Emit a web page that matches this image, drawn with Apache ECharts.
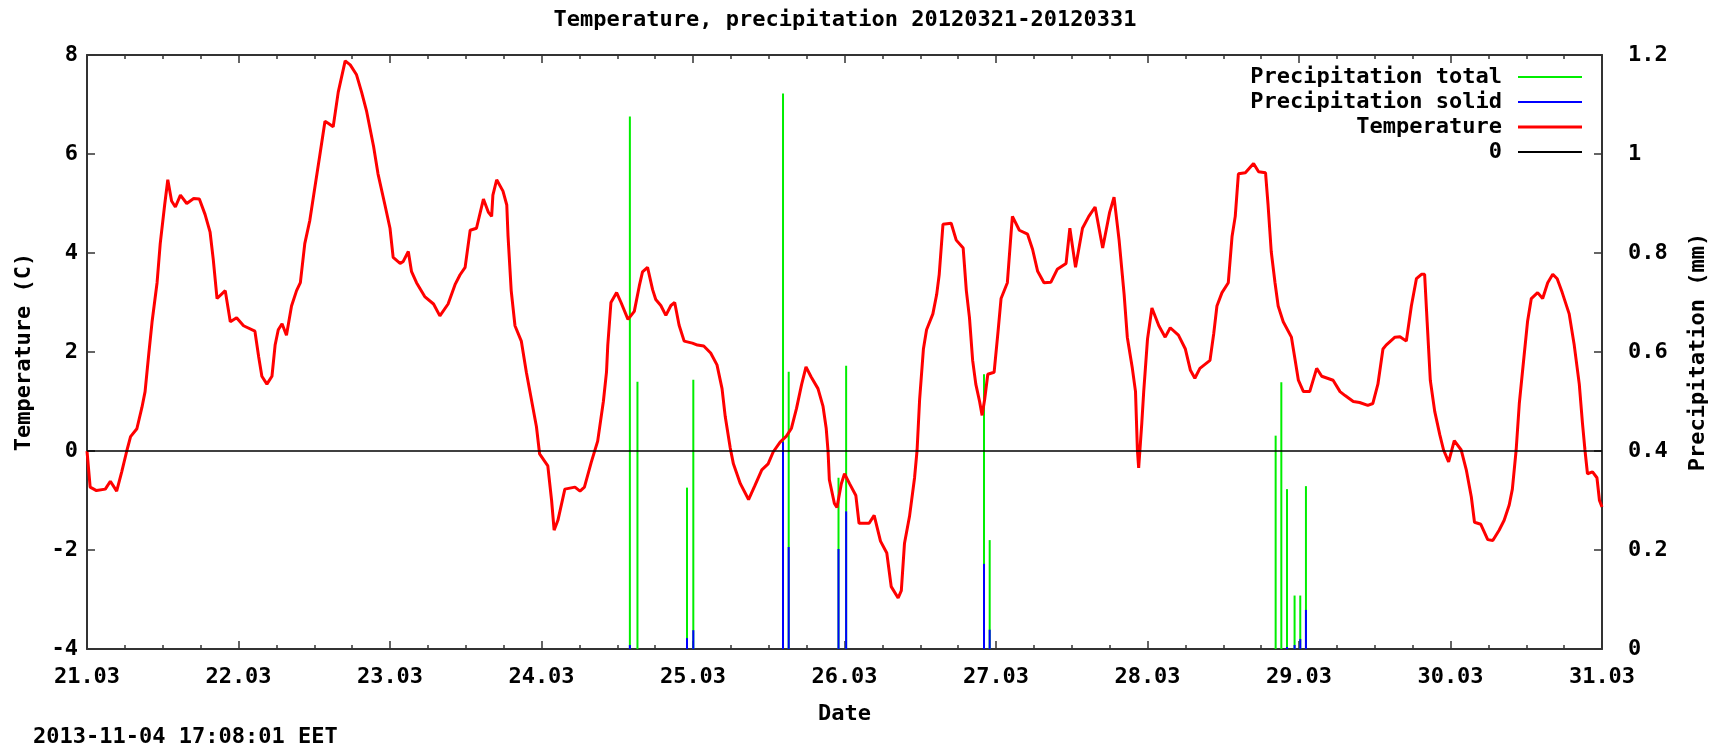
<!DOCTYPE html>
<html>
<head>
<meta charset="utf-8">
<script src="https://cdn.jsdelivr.net/npm/echarts@6/dist/echarts.min.js"></script>
<style>
html,body{margin:0;padding:0;background:#fff;}
#chart{width:1717px;height:749px;}
</style>
</head>
<body>
<div id="chart"></div>
<script>
// X axis: hours since 21.03 00:00
const xTickLabels = ['21.03','22.03','23.03','24.03','25.03','26.03','27.03','28.03','29.03','30.03','31.03'];

const tempHours = [0,0.5,1.5,2.9,3.7,4.7,5.5,6.3,6.9,7.9,8.7,9.2,9.8,10.3,11.1,11.6,12.3,12.8,13.4,14.0,14.8,15.8,16.9,17.8,18.7,19.5,20.0,20.6,21.9,22.7,23.7,24.8,26.6,27.2,27.7,28.5,29.3,29.8,30.3,30.9,31.6,32.4,33.2,33.8,34.5,35.3,36.1,36.9,37.7,38.2,39.0,39.8,40.9,41.7,42.7,43.5,44.3,45.4,46.1,47.2,48.0,48.5,49.6,50.1,50.9,51.4,52.2,53.5,54.9,55.9,57.2,58.3,59.1,59.9,60.7,61.7,62.8,63.6,64.1,64.3,64.9,65.9,66.5,66.7,67.2,67.8,68.8,69.6,70.4,71.2,71.7,73.0,73.6,74.0,74.6,75.7,77.3,78.1,78.8,79.9,80.9,81.8,82.3,82.5,83.0,83.9,84.6,85.7,86.7,87.5,88.0,88.8,89.6,90.1,90.9,91.7,92.5,93.1,93.8,94.6,95.9,96.7,97.7,98.8,99.8,100.6,101.1,101.9,102.4,103.5,104.8,105.8,106.9,107.9,108.7,109.8,110.8,111.6,112.4,113.2,113.9,114.7,115.8,116.6,117.1,117.4,117.6,118.4,118.8,119.5,120.0,120.8,121.8,122.3,123.9,124.7,125.7,126.7,127.4,128.5,129.0,129.5,130.3,131.1,131.5,131.9,132.5,133.0,134.0,134.6,135.0,135.6,136.9,137.7,138.8,139.3,139.8,140.3,140.8,141.4,141.8,142.2,142.7,143.7,144.3,144.8,145.8,146.4,146.6,147.7,149.0,149.8,150.6,151.6,152.7,153.7,155.1,155.7,156.6,157.7,158.7,159.7,160.9,162.0,162.7,163.5,164.3,164.8,165.6,166.1,166.4,166.6,167.1,167.4,168.0,168.7,169.8,170.8,171.6,172.9,174.0,174.8,175.5,176.3,177.9,178.5,179.0,179.8,180.8,181.4,181.9,182.4,183.5,184.8,185.6,186.7,187.1,187.6,188.2,188.7,189.5,190.8,191.4,191.9,192.7,193.7,194.8,195.6,197.4,198.5,199.3,200.6,201.6,202.9,203.7,204.5,205.3,205.8,207.2,208.0,209.0,209.8,210.6,211.4,211.9,212.3,212.8,213.5,214.3,214.9,215.7,216.6,217.7,218.5,219.3,219.8,220.8,221.9,222.7,223.7,224.5,225.3,225.8,226.4,226.9,227.7,228.2,228.8,229.8,230.6,231.4,232.2,232.9,233.7,234.8,235.6,236.4,236.9,237.3,237.7,238.5,239.2,239.6,240];

const tempValues = [0,-0.73,-0.8,-0.77,-0.61,-0.81,-0.42,0,0.29,0.45,0.88,1.2,1.98,2.6,3.4,4.19,4.97,5.48,5.05,4.93,5.17,5.0,5.1,5.09,4.78,4.42,3.87,3.08,3.24,2.61,2.69,2.53,2.42,1.9,1.51,1.35,1.51,2.14,2.45,2.57,2.34,2.93,3.24,3.4,4.19,4.66,5.33,5.99,6.66,6.62,6.55,7.25,7.88,7.8,7.6,7.25,6.86,6.15,5.6,4.97,4.5,3.91,3.79,3.83,4.03,3.63,3.4,3.12,2.97,2.73,2.97,3.36,3.56,3.71,4.46,4.5,5.09,4.82,4.74,5.17,5.48,5.25,4.97,4.34,3.24,2.53,2.22,1.59,1.04,0.49,-0.06,-0.3,-1.0,-1.6,-1.4,-0.77,-0.73,-0.81,-0.73,-0.22,0.2,1.0,1.6,2.14,3.0,3.2,3.0,2.66,2.82,3.34,3.62,3.71,3.26,3.06,2.94,2.74,2.94,3.0,2.54,2.22,2.18,2.14,2.12,1.98,1.74,1.26,0.7,0.06,-0.26,-0.66,-0.98,-0.7,-0.38,-0.26,-0.02,0.18,0.3,0.46,0.86,1.34,1.7,1.5,1.26,0.9,0.46,-0.02,-0.58,-1.06,-1.14,-0.66,-0.46,-0.66,-0.9,-1.46,-1.46,-1.3,-1.82,-2.06,-2.74,-2.97,-2.82,-1.87,-1.32,-0.54,0.02,1.04,2.06,2.45,2.77,3.16,3.56,4.58,4.6,4.26,4.1,3.24,2.69,1.83,1.35,1.0,0.72,1.04,1.55,1.59,2.38,3.08,3.4,4.42,4.74,4.46,4.38,4.07,3.63,3.4,3.41,3.67,3.79,4.5,3.71,4.5,4.74,4.93,4.1,4.82,5.13,4.26,3.16,2.3,1.67,1.2,0.02,-0.34,0.57,1.2,2.26,2.89,2.53,2.3,2.49,2.34,2.06,1.63,1.47,1.67,1.83,2.38,2.93,3.2,3.4,4.34,4.74,5.6,5.62,5.81,5.64,5.62,4.97,4.03,3.4,2.93,2.61,2.3,1.83,1.43,1.2,1.2,1.67,1.51,1.43,1.2,1.12,1.0,0.98,0.92,0.96,1.35,2.06,2.14,2.3,2.31,2.22,2.93,3.48,3.57,3.57,2.61,1.43,0.8,0.33,0.02,-0.22,0.21,0.02,-0.38,-0.93,-1.44,-1.48,-1.79,-1.81,-1.6,-1.4,-1.09,-0.77,0.02,0.96,1.98,2.61,3.08,3.2,3.08,3.4,3.57,3.48,3.2,2.77,2.14,1.35,0.57,0.02,-0.46,-0.42,-0.54,-1.0,-1.13];

const precipHours  = [86.0,87.2,95.05,96.05,110.26,111.16,119.05,120.26,142.1,143.0,188.3,189.2,190.1,191.3,192.2,193.1];
const precipTotal  = [1.076,0.54,0.326,0.544,1.122,0.56,0.346,0.572,0.555,0.22,0.431,0.539,0.323,0.108,0.108,0.329];
const precipSolid  = [0.008,0,0.022,0.038,0.418,0.206,0.202,0.278,0.172,0.039,0,0,0.004,0.008,0.02,0.079];

const zeroLineHours = [0,240];
const zeroLineValues = [0,0];

const FONT = 'DejaVu Sans Mono';
const txt = {fontFamily: FONT, fontWeight: 'bold', fontSize: 22, color: '#000'};
const AX = '#333';

const zip = (a,b) => a.map((v,i) => [v, b[i]]);

const xAxisBase = {
  type: 'value', min: 0, max: 240, interval: 24,
  axisLine: {show: true, onZero: false, lineStyle: {color: AX, width: 2}},
  axisTick: {show: true, inside: true, length: 8, lineStyle: {color: AX, width: 1.5}},
  minorTick: {show: true, splitNumber: 4, length: 4, lineStyle: {color: AX, width: 1.5}},
  splitLine: {show: false},
  minorSplitLine: {show: false}
};

const chart = echarts.init(document.getElementById('chart'), null, {renderer: 'canvas'});
const option = {
  animation: false,
  backgroundColor: '#fff',
  title: [
    {text: 'Temperature, precipitation 20120321-20120331', left: 845, top: 9, textAlign: 'center',
     textStyle: txt, padding: 0},
    {text: '2013-11-04 17:08:01 EET', left: 33, top: 726, textStyle: txt, padding: 0}
  ],
  grid: {left: 87, right: 110, top: 55, bottom: 100, containLabel: false},
  legend: [
    {data: ['Precipitation total'], itemHeight: 2},
    {data: ['Precipitation solid'], itemHeight: 2},
    {data: ['Temperature'], itemHeight: 3},
    {data: ['0'], itemHeight: 2}
  ].map((l, i) => Object.assign({
    orient: 'vertical', right: 135, top: 66 + i * 25, align: 'right',
    icon: 'rect', itemWidth: 64, padding: 0, selectedMode: false,
    textStyle: Object.assign({}, txt, {padding: [0, 11, 0, 0]})
  }, l)),
  xAxis: [
    Object.assign({}, xAxisBase, {
      position: 'bottom',
      name: 'Date', nameLocation: 'middle', nameGap: 54, nameTextStyle: txt,
      axisLabel: {show: true, margin: 17, ...txt, formatter: v => xTickLabels[Math.round(v / 24)]}
    }),
    Object.assign({}, xAxisBase, {position: 'top', axisLabel: {show: false}})
  ],
  yAxis: [
    {
      type: 'value', min: -4, max: 8, interval: 2, position: 'left',
      name: 'Temperature (C)', nameLocation: 'middle', nameGap: 52, nameRotate: 90, nameTextStyle: txt,
      axisLine: {show: true, onZero: false, lineStyle: {color: AX, width: 2}},
      axisTick: {show: true, inside: true, length: 8, lineStyle: {color: AX, width: 1.5}},
      axisLabel: {margin: 9, ...txt},
      splitLine: {show: false}
    },
    {
      type: 'value', min: 0, max: 1.2, interval: 0.2, position: 'right',
      name: 'Precipitation (mm)', nameLocation: 'middle', nameGap: 85, nameRotate: 90, nameTextStyle: txt,
      axisLine: {show: true, onZero: false, lineStyle: {color: AX, width: 2}},
      axisTick: {show: true, inside: true, length: 8, lineStyle: {color: AX, width: 1.5}},
      axisLabel: {margin: 26, ...txt},
      splitLine: {show: false}
    }
  ],
  series: [
    {
      name: 'Precipitation total', type: 'bar', xAxisIndex: 0, yAxisIndex: 1,
      data: zip(precipHours, precipTotal), barWidth: 2, barGap: '-100%',
      itemStyle: {color: '#00ee00'}, color: '#00ee00'
    },
    {
      name: 'Precipitation solid', type: 'bar', xAxisIndex: 0, yAxisIndex: 1,
      data: zip(precipHours, precipSolid), barWidth: 2, barGap: '-100%',
      itemStyle: {color: '#0000ff'}, color: '#0000ff'
    },
    {
      name: 'Temperature', type: 'line', xAxisIndex: 0, yAxisIndex: 0,
      data: zip(tempHours, tempValues), showSymbol: false, symbol: 'none',
      lineStyle: {color: '#ff0000', width: 3}, itemStyle: {color: '#ff0000'}, color: '#ff0000'
    },
    {
      name: '0', type: 'line', xAxisIndex: 0, yAxisIndex: 0,
      data: zip(zeroLineHours, zeroLineValues), showSymbol: false, symbol: 'none',
      lineStyle: {color: '#000', width: 1.5}, itemStyle: {color: '#000'}, color: '#000'
    }
  ]
};
chart.setOption(option);
</script>
</body>
</html>
